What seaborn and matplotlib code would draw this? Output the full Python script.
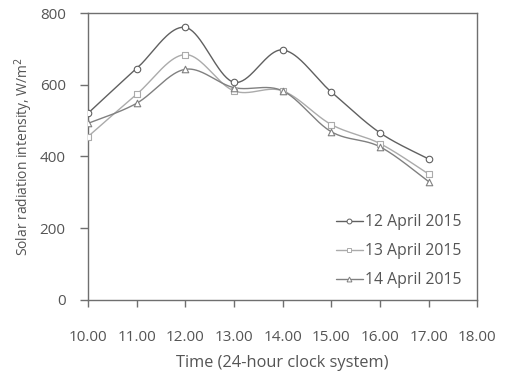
import numpy as np
import pandas as pd
import matplotlib
matplotlib.use("Agg")
import matplotlib.pyplot as plt
from matplotlib.lines import Line2D
import seaborn as sns

hours = [10, 11, 12, 13, 14, 15, 16, 17]
apr12 = [520, 645, 760, 607, 697, 580, 466, 393]
apr13 = [455, 573, 684, 583, 583, 489, 436, 351]
apr14 = [492, 548, 643, 592, 583, 469, 427, 330]
series_names = ["12 April 2015", "13 April 2015", "14 April 2015"]
xticks = [10, 11, 12, 13, 14, 15, 16, 17, 18]
xticklabels = ["10.00", "11.00", "12.00", "13.00", "14.00", "15.00", "16.00", "17.00", "18.00"]
yticks = [0, 200, 400, 600, 800]

sns.set_theme(style="white")
plt.rcParams['font.family'] = ['Open Sans', 'DejaVu Sans']

df = pd.DataFrame({
    "hour": hours * 3,
    "value": apr12 + apr13 + apr14,
    "series": [series_names[0]] * 8 + [series_names[1]] * 8 + [series_names[2]] * 8,
})

colors = {series_names[0]: "#606060", series_names[1]: "#ababab", series_names[2]: "#808080"}
markers = {series_names[0]: "o", series_names[1]: "s", series_names[2]: "^"}


def smooth(x, y, n=40):
    x = np.asarray(x, float)
    y = np.asarray(y, float)
    P = np.column_stack([x, y])
    P = np.vstack([P[0], P, P[-1]])
    out = []
    t = np.linspace(0, 1, n)
    for i in range(1, len(P) - 2):
        p0, p1, p2, p3 = P[i - 1], P[i], P[i + 1], P[i + 2]
        c1 = p1 + (p2 - p0) / 6.0
        c2 = p2 - (p3 - p1) / 6.0
        seg = ((1 - t) ** 3)[:, None] * p1 + (3 * (1 - t) ** 2 * t)[:, None] * c1 \
            + (3 * (1 - t) * t ** 2)[:, None] * c2 + (t ** 3)[:, None] * p2
        out.append(seg)
    out = np.vstack(out)
    return out[:, 0], out[:, 1]


fig = plt.figure(figsize=(5.05, 3.72), dpi=100)
ax = fig.add_axes([0.174, 0.194, 0.771, 0.771])

handles = []
for name in series_names:
    sub = df[df.series == name]
    sx, sy = smooth(sub.hour, sub.value)
    ax.plot(sx, sy, color=colors[name], lw=1.0, zorder=2)
    sns.scatterplot(data=sub, x="hour", y="value", ax=ax, marker=markers[name],
                    s=22, facecolor="white", edgecolor=colors[name], linewidth=0.8,
                    zorder=3, legend=False)
    handles.append(Line2D([], [], color=colors[name], lw=1.0, marker=markers[name],
                          markersize=3.5, markerfacecolor="white",
                          markeredgecolor=colors[name], markeredgewidth=0.7))

ax.set_xlim(10, 18)
ax.set_ylim(0, 800)
ax.set_xticks(xticks)
ax.set_xticklabels(xticklabels)
ax.set_yticks(yticks)

textc = "#555555"
for sp in ax.spines.values():
    sp.set_color("#6f6f6f")
    sp.set_linewidth(1.0)
ax.tick_params(axis="both", which="both", direction="out", length=5, width=1,
               color="#6f6f6f", labelcolor=textc, labelsize=11, left=True, bottom=True)
ax.tick_params(axis="x", pad=17)
ax.tick_params(axis="y", length=6, pad=10)

ax.set_xlabel("Time (24-hour clock system)", fontsize=11.8, color=textc, labelpad=7)
ax.set_ylabel("Solar radiation intensity, W/m$^2$", fontsize=10, color=textc, labelpad=3)

leg = ax.legend(handles, series_names, loc="lower right", bbox_to_anchor=(0.985, 0.008),
                frameon=False, fontsize=11.3, handlelength=1.75, handletextpad=0.15,
                labelspacing=0.82, borderaxespad=0.2)
for t in leg.get_texts():
    t.set_color(textc)

fig.savefig("out.png", dpi=100)
